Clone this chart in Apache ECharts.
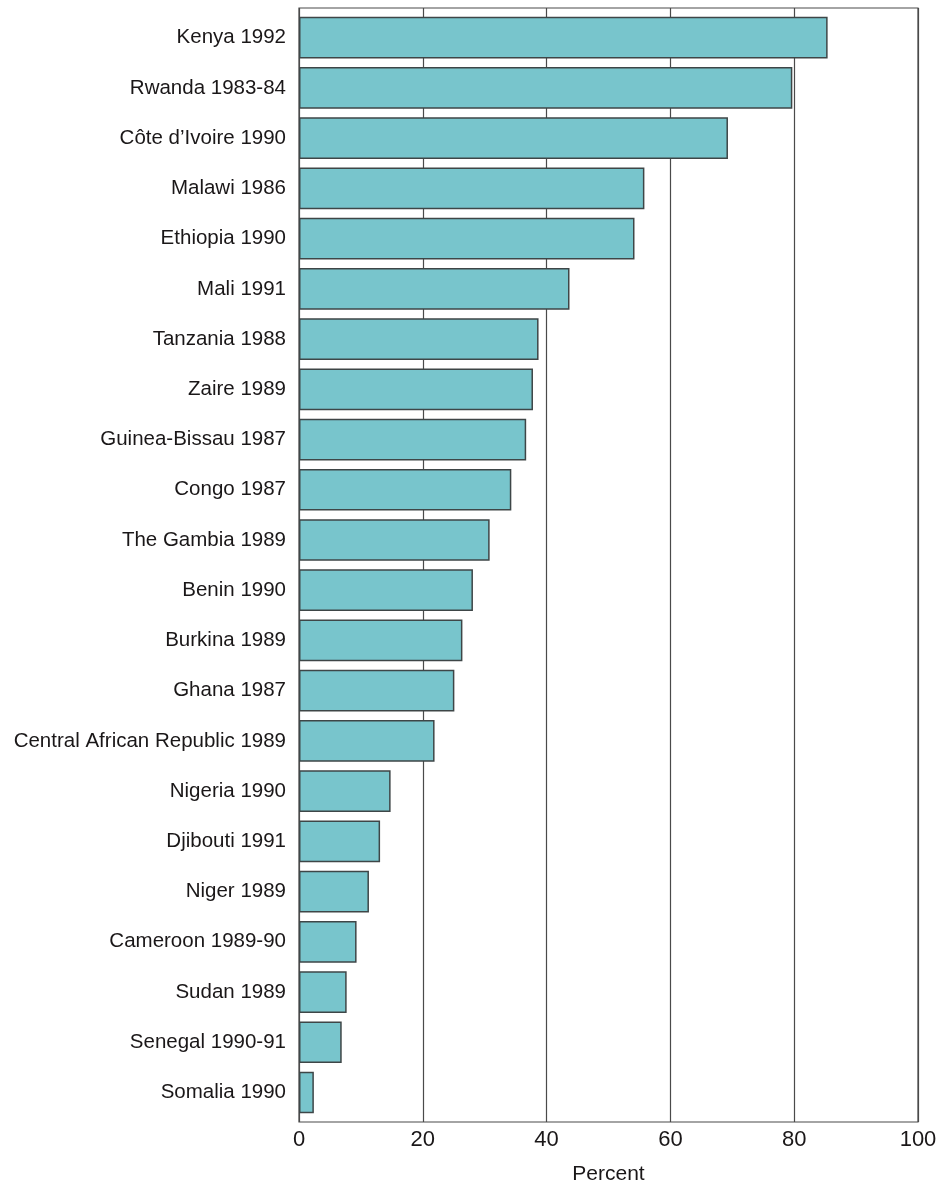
<!DOCTYPE html>
<html>
<head>
<meta charset="utf-8">
<script src="https://cdn.jsdelivr.net/npm/echarts@6/dist/echarts.min.js"></script>
<style>
html,body{margin:0;padding:0;background:#ffffff;}
#chart{width:941px;height:1184px;}
</style>
</head>
<body>
<div id="chart"></div>
<script>
const categories = [
  "Kenya 1992", "Rwanda 1983-84", "Côte d’Ivoire 1990", "Malawi 1986", "Ethiopia 1990",
  "Mali 1991", "Tanzania 1988", "Zaire 1989", "Guinea-Bissau 1987", "Congo 1987",
  "The Gambia 1989", "Benin 1990", "Burkina 1989", "Ghana 1987",
  "Central African Republic 1989", "Nigeria 1990", "Djibouti 1991", "Niger 1989",
  "Cameroon 1989-90", "Sudan 1989", "Senegal 1990-91", "Somalia 1990"
];
const values = [
  85.4, 79.7, 69.3, 55.8, 54.2,
  43.7, 38.7, 37.8, 36.7, 34.3,
  30.8, 28.1, 26.4, 25.1,
  21.9, 14.8, 13.1, 11.3,
  9.3, 7.7, 6.9, 2.4
];
const xTicks = [0, 20, 40, 60, 80, 100];
const axisTitle = "Percent";

const chart = echarts.init(document.getElementById('chart'), null, {renderer: 'canvas'});
const font = "'Liberation Sans', Arial, Helvetica, sans-serif";
const ink = '#1a1718';
const lineCol = '#4a4a4a';

chart.setOption({
  backgroundColor: '#ffffff',
  animation: false,
  grid: [
    {left: 299, top: 8, width: 619, height: 1114, show: true, borderColor: lineCol, borderWidth: 1.2,
     backgroundColor: 'transparent', containLabel: false, outerBoundsMode: 'none'},
    {left: 299, top: 12.6, width: 619, height: 1105, containLabel: false, outerBoundsMode: 'none'}
  ],
  xAxis: [
    {
      gridIndex: 0, type: 'value', min: xTicks[0], max: xTicks[xTicks.length - 1], interval: 20,
      name: axisTitle, nameLocation: 'middle', nameGap: 42,
      nameTextStyle: {fontFamily: font, fontSize: 21, color: ink},
      axisLine: {show: false}, axisTick: {show: false},
      axisLabel: {fontFamily: font, fontSize: 22, color: ink, margin: 7},
      splitLine: {show: true, lineStyle: {color: lineCol, width: 1.2}}
    },
    {gridIndex: 1, type: 'value', min: 0, max: 100, show: false, splitLine: {show: false}}
  ],
  yAxis: [
    {gridIndex: 0, type: 'category', data: categories, show: false},
    {
      gridIndex: 1, type: 'category', data: categories, inverse: true,
      axisLine: {show: false}, axisTick: {show: false},
      axisLabel: {fontFamily: font, fontSize: 20.5, color: ink, margin: 13},
      splitLine: {show: false}
    }
  ],
  series: [{
    type: 'bar',
    xAxisIndex: 1, yAxisIndex: 1,
    data: values,
    barCategoryGap: '17%',
    itemStyle: {color: '#78c5cc', borderColor: '#3e4647', borderWidth: 1.5},
    silent: true
  }]
});
</script>
</body>
</html>
